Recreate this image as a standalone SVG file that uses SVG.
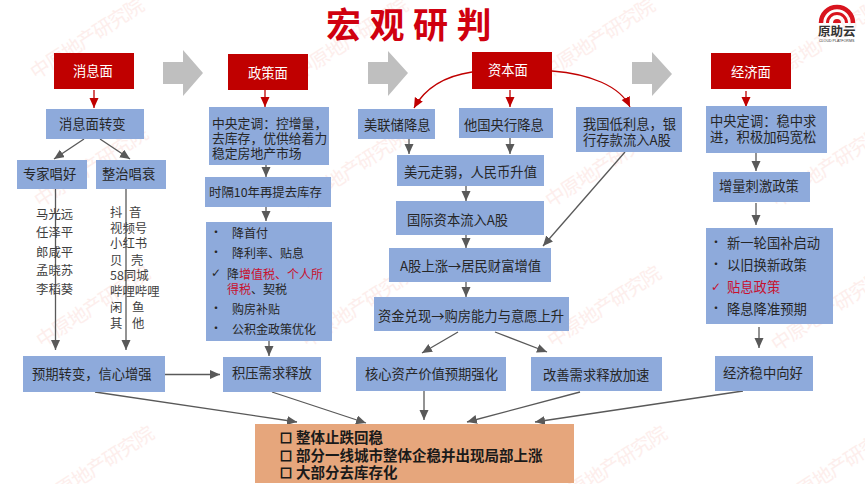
<svg xmlns="http://www.w3.org/2000/svg" width="865" height="484" viewBox="0 0 865 484">
<style>
text{font-family:"Noto Sans CJK SC","Liberation Sans",sans-serif;font-size:13.3px;fill:#262626}
.wm{font-size:19.500px;fill:#fdeeec;letter-spacing:-0.9px}
.b{fill:#8eaadb}
.r{fill:#c00000}
.w{fill:#fff}
.s{font-size:12.4px;fill:#3f3f3f}
.m{font-size:12px}
.d{fill:#c8102e}
.o{font-size:14.5px;font-weight:700;fill:#1a1a1a}
.q{font-size:12px;font-weight:700;fill:#1a1a1a;stroke:#1a1a1a;stroke-width:0.9}
.big{fill:#bfbfbf}
.g{fill:none;stroke:#595959;stroke-width:1.3;marker-end:url(#ag)}
.c{fill:none;stroke:#c00000;stroke-width:1.3;marker-end:url(#ar)}
</style>
<defs>
<marker id="ag" markerUnits="userSpaceOnUse" markerWidth="12" markerHeight="10" refX="10" refY="4.5" orient="auto"><path d="M0,0L10,4.5L0,9z" fill="#595959"/></marker>
<marker id="ar" markerUnits="userSpaceOnUse" markerWidth="12" markerHeight="10" refX="10" refY="4.5" orient="auto"><path d="M0,0L10,4.5L0,9z" fill="#c00000"/></marker>
</defs>
<rect width="865" height="484" fill="#fff"/>
<g id="watermarks">
<text class="wm" transform="translate(36,80) rotate(-33)">中原地产研究院</text>
<text class="wm" transform="translate(40,208) rotate(-33)">中原地产研究院</text>
<text class="wm" transform="translate(42,348) rotate(-33)">中原地产研究院</text>
<text class="wm" transform="translate(46,508) rotate(-33)">中原地产研究院</text>
<text class="wm" transform="translate(300,80) rotate(-33)">中原地产研究院</text>
<text class="wm" transform="translate(300,211) rotate(-33)">中原地产研究院</text>
<text class="wm" transform="translate(307,348) rotate(-33)">中原地产研究院</text>
<text class="wm" transform="translate(547,80) rotate(-33)">中原地产研究院</text>
<text class="wm" transform="translate(551,208) rotate(-33)">中原地产研究院</text>
<text class="wm" transform="translate(553,348) rotate(-33)">中原地产研究院</text>
<text class="wm" transform="translate(559,508) rotate(-33)">中原地产研究院</text>
<text class="wm" transform="translate(773,82) rotate(-33)">中原地产研究院</text>
<text class="wm" transform="translate(777,208) rotate(-33)">中原地产研究院</text>
<text class="wm" transform="translate(777,352) rotate(-33)">中原地产研究院</text>
<text class="wm" transform="translate(787,508) rotate(-33)">中原地产研究院</text>
</g>
<text x="326" y="38" style="font-size:35px;font-weight:700;fill:#d0000f;letter-spacing:8.500px">宏观研判</text>
<g id="logo">
<path d="M821,23A16,16 0 0 1 853,23" fill="none" stroke="#d8141e" stroke-width="4.500"/>
<path d="M827.500,23A9.500,9.500 0 0 1 846.500,23" fill="none" stroke="#d8141e" stroke-width="3"/>
<path d="M833,23A4,4 0 0 1 841,23z" fill="#d8141e"/>
<text x="818" y="36" style="font-size:12.500px;font-weight:700;fill:#333">原助云</text>
<text x="819" y="41.500" style="font-size:3.600px;fill:#333;font-family:'Liberation Sans',sans-serif">CLOUD PLATFORMS</text>
</g>
<g id="big-arrows">
<path class="big" d="M163,62H183V50L203,73L183,96V84H163z"/>
<path class="big" d="M368,62H388V51L408,73L388,96V84H368z"/>
<path class="big" d="M632,62H652V52L672,74L652,96V84H632z"/>
</g>
<g id="connectors">
<path class="c" d="M94,90V108"/>
<path class="c" d="M265,90V107"/>
<path class="c" d="M510,90V107"/>
<path class="c" d="M746,91V107"/>
<path class="c" d="M472,72C445,76 425,88 414,108"/>
<path class="c" d="M552,71C590,74 620,86 630,107"/>
<path class="g" d="M84,139L54,159"/>
<path class="g" d="M100,139L130,159"/>
<path class="g" d="M55.500,189V350"/>
<path class="g" d="M126,189V350"/>
<path class="g" d="M266,165V177"/>
<path class="g" d="M266,205V221"/>
<path class="g" d="M269,341V356"/>
<path class="g" d="M165,374.500H220"/>
<path class="g" d="M95,392L297,422"/>
<path class="g" d="M272,392L366,423"/>
<path class="g" d="M409,138V154"/>
<path class="g" d="M510,138V154"/>
<path class="g" d="M466,186V201"/>
<path class="g" d="M466,235V248"/>
<path class="g" d="M625,152L543,246"/>
<path class="g" d="M466,282V297"/>
<path class="g" d="M458,332L422,353"/>
<path class="g" d="M495,332L547,352"/>
<path class="g" d="M424,391V420"/>
<path class="g" d="M580,392L467,422"/>
<path class="g" d="M743,391L535,422"/>
<path class="g" d="M756,153V171"/>
<path class="g" d="M756,203V225"/>
<path class="g" d="M759,327V348"/>
</g>
<g id="n-xiaoxi"><rect class="r" x="54" y="53" width="80" height="36"/><text class="w" x="73" y="76">消息面</text></g>
<g id="n-zhengce"><rect class="r" x="228" y="54" width="80" height="36"/><text class="w" x="248" y="78">政策面</text></g>
<g id="n-ziben"><rect class="r" x="472" y="52" width="80" height="37"/><text class="w" x="488" y="75">资本面</text></g>
<g id="n-jingji"><rect class="r" x="711" y="53" width="80" height="36"/><text class="w" x="731" y="77">经济面</text></g>
<g id="n-zhuanbian"><rect class="b" x="46" y="109" width="98" height="30"/><text x="59" y="129">消息面转变</text></g>
<g id="n-zhuanjia"><rect class="b" x="17" y="160" width="70" height="29"/><text x="23" y="179">专家唱好</text></g>
<g id="n-zhengzhi"><rect class="b" x="96" y="160" width="70" height="29"/><text x="102" y="179">整治唱衰</text></g>
<g id="l-names">
<text class="s" x="36" y="219">马光远</text>
<text class="s" x="36" y="237">任泽平</text>
<text class="s" x="36" y="257">郎咸平</text>
<text class="s" x="36" y="275">孟晓苏</text>
<text class="s" x="36" y="294">李稻葵</text>
</g>
<g id="l-platforms">
<text class="s" y="217"><tspan x="110">抖</tspan><tspan x="129">音</tspan></text>
<text class="s" x="110" y="233">视频号</text>
<text class="s" x="110" y="248">小红书</text>
<text class="s" y="265"><tspan x="110">贝</tspan><tspan x="131">壳</tspan></text>
<text class="s" x="110" y="280">58同城</text>
<text class="s" x="110" y="296">哔哩哔哩</text>
<text class="s" y="312"><tspan x="110">闲</tspan><tspan x="132">鱼</tspan></text>
<text class="s" y="328"><tspan x="110">其</tspan><tspan x="132">他</tspan></text>
</g>
<g id="n-dingdiao"><rect class="b" x="209" y="107" width="120" height="58"/>
<text style="font-size:12.800px" x="212" y="128">中央定调&#xFF1A;控增量&#xFF0C;</text>
<text style="font-size:12.800px" x="212" y="143">去库存&#xFF0C;优供给着力</text>
<text style="font-size:12.800px" x="212" y="158">稳定房地产市场</text></g>
<g id="n-shige"><rect class="b" x="205" y="177" width="126" height="30"/><text style="font-size:12.400px" x="209" y="197">时隔10年再提去库存</text></g>
<g id="n-policy"><rect class="b" x="206" y="222" width="126" height="119"/>
<text class="m" x="210" y="237">•</text><text class="m" x="232" y="238">降首付</text>
<text class="m" x="210" y="257">•</text><text class="m" x="232" y="258">降利率、贴息</text>
<text class="m" x="211" y="277" style="font-family:'DejaVu Sans',sans-serif">✓</text><text class="m" x="227" y="279">降<tspan class="d">增值税、个人所</tspan></text>
<text class="m" x="227" y="294"><tspan class="d">得税</tspan>、契税</text>
<text class="m" x="210" y="313">•</text><text class="m" x="232" y="314">购房补贴</text>
<text class="m" x="210" y="333">•</text><text class="m" x="232" y="334">公积金政策优化</text></g>
<g id="n-yuqi"><rect class="b" x="23" y="356" width="142" height="36"/><text x="32" y="379">预期转变&#xFF0C;信心增强</text></g>
<g id="n-jiya"><rect class="b" x="223" y="357" width="98" height="35"/><text x="232" y="378">积压需求释放</text></g>
<g id="n-meilian"><rect class="b" x="358" y="109" width="77" height="30"/><text x="364" y="130">美联储降息</text></g>
<g id="n-taguo"><rect class="b" x="459" y="108" width="94" height="30"/><text x="464" y="130">他国央行降息</text></g>
<g id="n-woguo"><rect class="b" x="576" y="107" width="106" height="45"/><text x="583" y="129">我国低利息&#xFF0C;银</text><text x="583" y="145">行存款流入A股</text></g>
<g id="n-meiyuan"><rect class="b" x="397" y="155" width="147" height="31"/><text x="404" y="177">美元走弱&#xFF0C;人民币升值</text></g>
<g id="n-guoji"><rect class="b" x="396" y="201" width="148" height="34"/><text x="407" y="225">国际资本流入A股</text></g>
<g id="n-agu"><rect class="b" x="389" y="248" width="162" height="34"/><text x="400" y="271">A股上涨→居民财富增值</text></g>
<g id="n-zijin"><rect class="b" x="374" y="297" width="195" height="34"/><text x="378" y="321">资金兑现→购房能力与意愿上升</text></g>
<g id="n-hexin"><rect class="b" x="356" y="357" width="150" height="34"/><text x="365" y="379">核心资产价值预期强化</text></g>
<g id="n-gaishan"><rect class="b" x="531" y="357" width="131" height="34"/><text x="543" y="380">改善需求释放加速</text></g>
<g id="n-dingdiao2"><rect class="b" x="706" y="106" width="121" height="47"/><text x="710" y="126">中央定调&#xFF1A;稳中求</text><text x="710" y="142">进&#xFF0C;积极加码宽松</text></g>
<g id="n-zengliang"><rect class="b" x="713" y="172" width="97" height="30"/><text x="719" y="191">增量刺激政策</text></g>
<g id="n-stimulus"><rect class="b" x="706" y="228" width="127" height="96"/>
<text class="m" x="710" y="247">•</text><text x="727" y="248">新一轮国补启动</text>
<text class="m" x="710" y="269">•</text><text x="727" y="270">以旧换新政策</text>
<text class="d" x="711" y="291" style="font-family:'DejaVu Sans',sans-serif;font-size:12px">✓</text><text class="d" x="727" y="292">贴息政策</text>
<text class="m" x="710" y="313">•</text><text x="727" y="314">降息降准预期</text></g>
<g id="n-jingjiwen"><rect class="b" x="715" y="356" width="98" height="35"/><text x="723" y="378">经济稳中向好</text></g>
<g id="n-result"><rect x="255" y="424" width="319" height="59" fill="#e6a67c"/>
<text class="q" x="280" y="442.500">□</text><text class="o" x="296" y="443">整体止跌回稳</text>
<text class="q" x="280" y="460.500">□</text><text class="o" x="296" y="461">部分一线城市整体企稳并出现局部上涨</text>
<text class="q" x="280" y="477.500">□</text><text class="o" x="296" y="478">大部分去库存化</text></g>
</svg>
